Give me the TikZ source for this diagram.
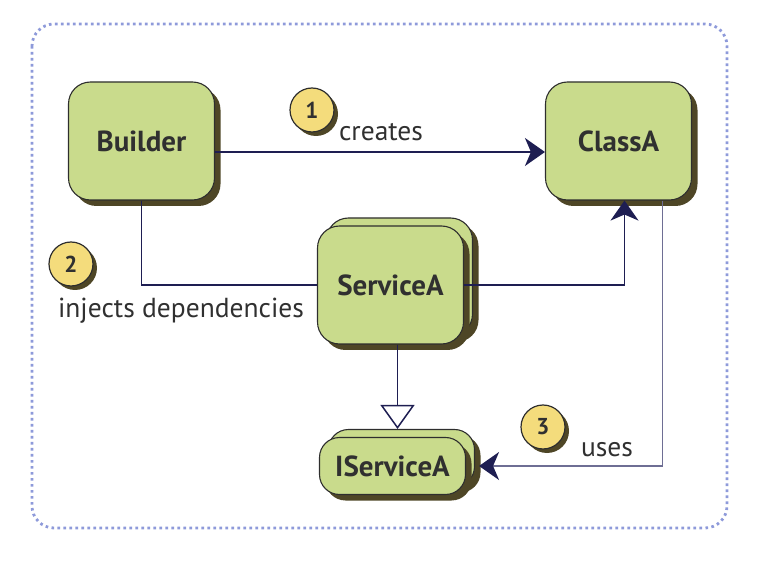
\documentclass[tikz,border=0pt]{standalone}
\usepackage{fontspec}
\setmainfont{PT Sans}
\usepackage{tikz}
\usetikzlibrary{positioning}
\usetikzlibrary{shadows}
\usetikzlibrary{arrows.meta}
\definecolor{boxgreen}{HTML}{C9DB8C}
\definecolor{shadeolive}{HTML}{4E4626}
\definecolor{boxline}{HTML}{2E2E2E}
\definecolor{numyellow}{HTML}{F4DC7C}
\definecolor{linknavy}{HTML}{1E1E52}
\definecolor{uselink}{HTML}{6E6E94}
\definecolor{framedots}{HTML}{8E9ADA}
\definecolor{txtgrey}{HTML}{303030}
\tikzset{
  cls/.style={draw=boxline,line width=1.1pt,fill=boxgreen,rounded corners=22pt,
    minimum width=146pt,minimum height=118pt,text=txtgrey,
    font=\bfseries\fontsize{29}{33}\selectfont},
  dropshade/.style={general shadow={shadow xshift=6pt,shadow yshift=-6pt,fill=shadeolive}},
  stacked/.style={
    general shadow={shadow xshift=15pt,shadow yshift=2pt,fill=shadeolive},
    general shadow={shadow xshift=9pt,shadow yshift=8pt,fill=boxgreen,draw=boxline,line width=1.1pt}},
  num/.style={circle,draw=boxline,line width=1.2pt,fill=numyellow,minimum size=44pt,inner sep=0pt,
    text=txtgrey,font=\bfseries\fontsize{23}{27}\selectfont,
    general shadow={shadow xshift=4pt,shadow yshift=-4pt,fill=shadeolive}},
  lbl/.style={text=txtgrey,font=\fontsize{27.5}{31}\selectfont},
  link/.style={draw=linknavy,line width=1.5pt},
}

\begin{document}
\begin{tikzpicture}[x=1pt,y=-1pt,node distance=10pt,on grid]
      \useasboundingbox (0,0) rectangle (758,561);
      \draw[framedots,line width=2.8pt,dash pattern=on 2.6pt off 3.4pt,rounded corners=22pt]
        (32,24) rectangle (727,528);

      \node[cls,dropshade] (builder) at (141.5,141) {Builder};
      \node[cls,dropshade,right=477pt of builder] (classA) {ClassA};
      \node[cls,stacked,dropshade,below right=144pt and 249pt of builder] (svc) {ServiceA};
      \node[cls,stacked,dropshade,minimum height=57pt,rounded corners=20pt,
        below=181pt of svc,xshift=2pt] (isvc) {IServiceA};

      \node[num] (n1) at (312,110) {1};
      \node[num] (n2) at (71,264) {2};
      \node[num] (n3) at (543,427) {3};
      \node[lbl] (lcreates) at (381,132) {creates};
      \node[lbl] (linjects) at (181,311) {injects dependencies};
      \node[lbl] (luses) at (607,450) {uses};

      \draw[link,-{Stealth[length=20pt,width=28pt,inset=6pt]}]
        ([yshift=-11pt]builder.east) -- ([yshift=-11pt]classA.west);
      \draw[link] (builder.south) |- (svc.west);
      \draw[link,-{Stealth[length=20pt,width=28pt,inset=6pt]}] (svc.east) -| ([xshift=6pt]classA.south);
      \draw[link,-{Triangle[open,fill=white,length=24pt,width=34pt]}]
        ([xshift=7pt]svc.south) -- ([xshift=5pt,yshift=8pt]isvc.north);
      \draw[link,draw=uselink,-{Stealth[length=20pt,width=28pt,inset=6pt,color=linknavy]}]
        ([xshift=44pt]classA.south) |- ([xshift=13pt]isvc.east);
\end{tikzpicture}
\end{document}
